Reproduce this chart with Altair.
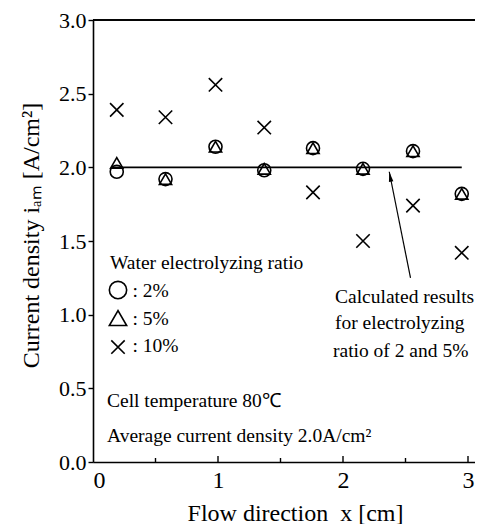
import altair as alt
import pandas as pd

# ---- data ----
flow_x = [0.19, 0.58, 0.98, 1.37, 1.76, 2.16, 2.56, 2.95]
ratio_2 = [1.97, 1.92, 2.14, 1.98, 2.13, 1.99, 2.11, 1.82]
ratio_5 = [2.03, 1.92, 2.14, 1.99, 2.13, 1.99, 2.11, 1.82]
ratio_10 = [2.39, 2.34, 2.56, 2.27, 1.83, 1.50, 1.74, 1.42]

calc_x = [0.15, 2.95]
calc_y = [2.0, 2.0]

arrow_x = [2.54, 2.37]
arrow_y = [1.25, 1.97]

x_labels = [0, 1, 2, 3]
x_major_ticks = [1, 2, 3]
x_minor_ticks = [0.5, 1.5, 2.5]
y_ticks = [0.0, 0.5, 1.0, 1.5, 2.0, 2.5, 3.0]

# legend keys drawn inside the plot (circle, triangle, cross)
key_x = [0.2, 0.2, 0.2]
key_y = [1.167, 0.977, 0.78]

note_text = [
    "Water electrolyzing ratio",
    ": 2%",
    ": 5%",
    ": 10%",
    "Calculated results",
    "for electrolyzing",
    "ratio of 2 and 5%",
    "Cell temperature 80℃",
    "Average current density 2.0A/cm²",
]
note_x = [0.136, 0.315, 0.315, 0.315, 1.936, 1.936, 1.92, 0.112, 0.112]
note_y = [1.31, 1.12, 0.93, 0.747, 1.08, 0.903, 0.713, 0.373, 0.136]

# ---- layout ----
W, H = 382, 442
FONT = "Liberation Serif"

xs = alt.Scale(domain=[0, 3.056], nice=False, zero=False)
ys = alt.Scale(domain=[0, 3.0], nice=False, zero=False)

xaxis = alt.Axis(
    values=x_labels, format="d", title="Flow direction\u00a0\u00a0x [cm]",
    ticks=False, labelPadding=6, labelFontSize=24, labelFont=FONT,
    labelColor="black", titleFont=FONT, titleFontSize=24,
    titleFontWeight="normal", titleColor="black", titleX=202, titleY=58,
    titleBaseline="alphabetic", domainColor="black", domainWidth=1.6,
    grid=False,
)
yaxis = alt.Axis(
    values=y_ticks, format=".1f", title="Current density iₐₘ [A/cm²]",
    tickSize=5, tickColor="black", tickWidth=1.4, labelPadding=2,
    labelFontSize=22, labelFont=FONT, labelColor="black",
    titleFont=FONT, titleFontSize=24, titleFontWeight="normal",
    titleColor="black", titleAngle=270, titleX=-62, titleY=215,
    titleBaseline="middle", domainColor="black", domainWidth=1.6,
    grid=False,
)

X = alt.X("x:Q", scale=xs, axis=xaxis)
Y = alt.Y("y:Q", scale=ys, axis=yaxis)

df2 = pd.DataFrame({"x": flow_x, "y": ratio_2})
df5 = pd.DataFrame({"x": flow_x, "y": ratio_5})
df10 = pd.DataFrame({"x": flow_x, "y": ratio_10})
dcalc = pd.DataFrame({"x": calc_x, "y": calc_y})
darrow = pd.DataFrame({"x": arrow_x, "y": arrow_y, "o": [0, 1]})
dhead = darrow.iloc[[1]]
dnotes = pd.DataFrame({"x": note_x, "y": note_y, "t": note_text})
dmaj = pd.DataFrame({"x": x_major_ticks, "y": [0] * len(x_major_ticks)})
dmin = pd.DataFrame({"x": x_minor_ticks, "y": [0] * len(x_minor_ticks)})
dk_c = pd.DataFrame({"x": key_x[:1], "y": key_y[:1]})
dk_t = pd.DataFrame({"x": key_x[1:2], "y": key_y[1:2]})
dk_x = pd.DataFrame({"x": key_x[2:], "y": key_y[2:]})

CROSS = "M-1,-1L1,1M-1,1L1,-1"


def pts(df, shape, size):
    return alt.Chart(df).mark_point(
        shape=shape, filled=False, color="black", size=size,
        strokeWidth=1.6, opacity=1
    ).encode(x=X, y=Y)


circles = pts(df2, "circle", 170)
triangles = pts(df5, "triangle-up", 150)
crosses = pts(df10, CROSS, 180)
key_c = pts(dk_c, "circle", 300)
key_t = pts(dk_t, "triangle-up", 300)
key_x_ = pts(dk_x, CROSS, 180)

calc = alt.Chart(dcalc).mark_line(color="black", strokeWidth=1.6).encode(x=X, y=Y)
arrow = alt.Chart(darrow).mark_line(color="black", strokeWidth=1.2).encode(
    x=X, y=Y, order="o:O")
head = alt.Chart(dhead).mark_point(
    shape="M0,0L0.45,2L-0.45,2Z", filled=True, color="black", size=100,
    angle=349, opacity=1
).encode(x=X, y=Y)

notes = alt.Chart(dnotes).mark_text(
    align="left", baseline="alphabetic", font=FONT, fontSize=19.5, color="black"
).encode(x=X, y=Y, text="t:N")

maj = alt.Chart(dmaj).mark_rule(color="black", strokeWidth=1.4).encode(
    x=X, y=alt.value(H), y2=alt.value(H - 6))
mnr = alt.Chart(dmin).mark_rule(color="black", strokeWidth=1.4).encode(
    x=X, y=alt.value(H), y2=alt.value(H - 4))
top = alt.Chart(dmaj).mark_rule(color="black", strokeWidth=1.6).encode(
    x=alt.value(0), x2=alt.value(W), y=alt.value(0))

chart = alt.layer(
    top, maj, mnr, calc, arrow, head, circles, triangles, crosses,
    key_c, key_t, key_x_, notes
).properties(
    width=W, height=H,
    padding={"left": 85, "top": 12, "right": 0, "bottom": 62},
    autosize=alt.AutoSizeParams(type="none"),
    background="white",
).configure_view(stroke=None)

chart.save("out.html", embed_options={"renderer": "svg", "actions": False})
